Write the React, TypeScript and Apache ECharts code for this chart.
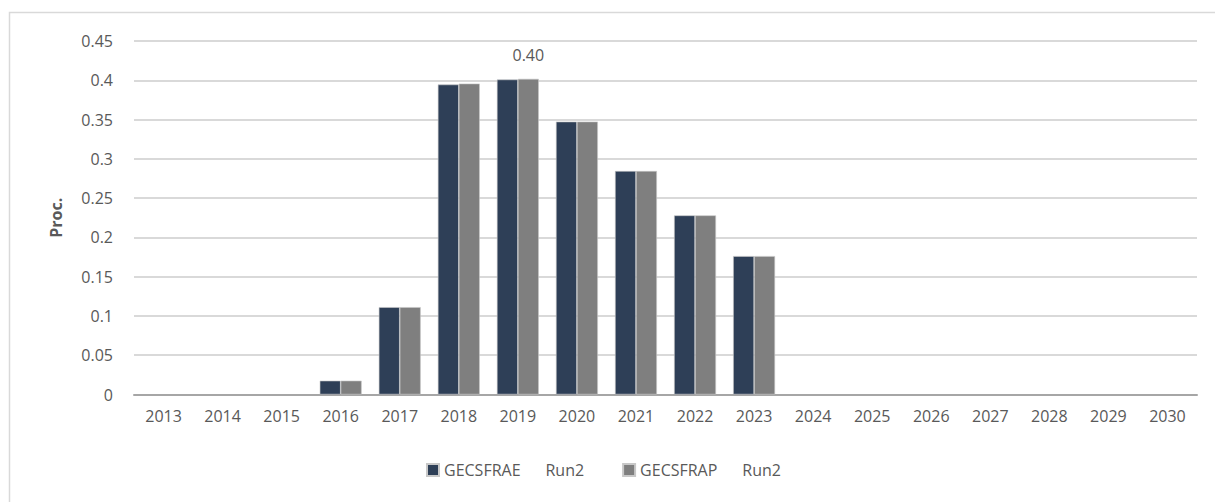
import React, { useEffect, useRef } from "react";
import * as echarts from "echarts";

const years = ["2013","2014","2015","2016","2017","2018","2019","2020","2021","2022","2023","2024","2025","2026","2027","2028","2029","2030"];
const gecsfrae = [0, 0, 0, 0.0176, 0.1112, 0.3946, 0.401, 0.3474, 0.2845, 0.228, 0.1762, 0, 0, 0, 0, 0, 0, 0];
const gecsfrap = [0, 0, 0, 0.0176, 0.1112, 0.3958, 0.4018, 0.3474, 0.2845, 0.228, 0.1762, 0, 0, 0, 0, 0, 0, 0];
const seriesNames = ["GECSFRAE\u00a0\u00a0\u00a0\u00a0\u00a0\u00a0Run2", "GECSFRAP\u00a0\u00a0\u00a0\u00a0\u00a0\u00a0Run2"];
const labeledIndex = 6;

const FONT = "'Open Sans', sans-serif";
const TXT = "#595959";
const FS = 16;

export default function App() {
  const ref = useRef<HTMLDivElement>(null);
  useEffect(() => {
    if (!ref.current) return;
    const chart = echarts.init(ref.current, undefined, { renderer: "svg" });
    const mk = (vals: number[], labelIdx: number | null) =>
      vals.map((v, i) => {
        const item: any = { value: v };
        if (v === 0) item.itemStyle = { borderWidth: 0 };
        if (i === labelIdx) {
          item.label = {
            show: true,
            position: "top",
            distance: 16,
            color: TXT,
            fontSize: FS,
            fontFamily: FONT,
            formatter: (p: any) => Number(p.value).toFixed(2),
          };
        }
        return item;
      });
    chart.setOption({
      animation: false,
      backgroundColor: "#ffffff",
      textStyle: { fontFamily: FONT },
      graphic: [
        {
          type: "rect",
          shape: { x: 9.5, y: 12.5, width: 1230, height: 520 },
          style: { fill: "none", stroke: "#d9d9d9", lineWidth: 1.5 },
          silent: true,
        },
      ],
      grid: { left: 134, right: 18, top: 41, bottom: 107.5, containLabel: false },
      legend: {
        left: 426,
        top: 462,
        padding: 0,
        itemWidth: 12,
        itemHeight: 12,
        itemGap: 38,
        icon: "rect",
        textStyle: { color: TXT, fontSize: FS, fontFamily: FONT },
        data: seriesNames,
      },
      xAxis: {
        type: "category",
        data: years,
        axisLine: { lineStyle: { color: "#a6a6a6", width: 2 } },
        axisTick: { show: false },
        axisLabel: { color: TXT, fontSize: FS, fontFamily: FONT, margin: 13 },
      },
      yAxis: {
        type: "value",
        min: 0,
        max: 0.45,
        interval: 0.05,
        name: "Proc.",
        nameLocation: "middle",
        nameGap: 70,
        nameTextStyle: { color: TXT, fontSize: FS, fontWeight: "bold", fontFamily: FONT },
        axisLine: { show: false },
        axisTick: { show: false },
        splitLine: { lineStyle: { color: "#d9d9d9", width: 2 } },
        axisLabel: {
          color: TXT,
          fontSize: FS,
          fontFamily: FONT,
          margin: 21,
          formatter: (v: number) => String(Math.round(v * 100) / 100),
        },
      },
      series: [
        {
          name: seriesNames[0],
          type: "bar",
          data: mk(gecsfrae, null),
          barGap: "0%",
          barCategoryGap: "29%",
          itemStyle: { color: "#2e3f57", borderColor: "#c8c8c8", borderWidth: 0.6 },
        },
        {
          name: seriesNames[1],
          type: "bar",
          data: mk(gecsfrap, labeledIndex),
          itemStyle: { color: "#7f7f7f", borderColor: "#c8c8c8", borderWidth: 0.6 },
        },
      ],
    });
    return () => chart.dispose();
  }, []);
  return (
    <div
      ref={ref}
      style={{ position: "fixed", left: 0, top: 0, width: 1215, height: 502 }}
    />
  );
}
